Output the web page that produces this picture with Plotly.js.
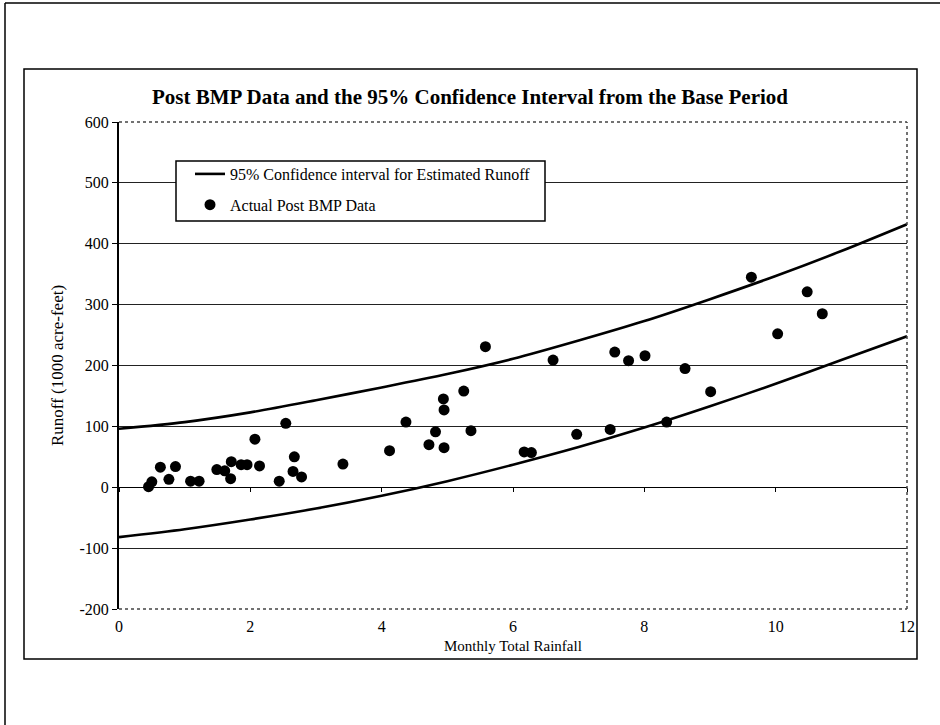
<!DOCTYPE html>
<html>
<head>
<meta charset="utf-8">
<script src="https://cdn.plot.ly/plotly-3.0.1.min.js"></script>
<style>html,body{margin:0;padding:0;background:#fff;}#chart{width:940px;height:725px;}</style>
</head>
<body>
<div id="chart"></div>
<script>
// Actual post-BMP monthly data
const rainfall = [0.45,0.50,0.63,0.76,0.86,1.09,1.22,1.49,1.61,1.70,1.71,1.86,1.95,2.07,2.14,2.44,2.54,2.65,2.67,2.78,3.41,4.12,4.37,4.72,4.82,4.94,4.95,4.95,5.25,5.36,5.58,6.17,6.28,6.61,6.97,7.48,7.55,7.76,8.01,8.34,8.62,9.01,9.63,10.03,10.48,10.71];
const runoff = [1,9,33,13,34,10,10,29,27,14,42,37,37,79,35,10,105,26,50,17,38,60,107,70,91,145,127,65,158,93,231,58,57,209,87,95,222,208,216,107,195,157,345,252,321,285];

// 95% confidence interval bounds (base period)
const ciRain = [0,1,2,3,4,5,6,7,8,9,10,11,12];
const ciUpper = [96,107,123,143,164,186,211,241,273,309,347,388,432];
const ciLower = [-82,-69,-53,-35,-14,10,37,66,98,133,170,209,248];

// Tick labels
const yTickVals = [-200,-100,0,100,200,300,400,500,600];
const yTickText = ['-200','-100','0','100','200','300','400','500','600'];
const xTickVals = [0,2,4,6,8,10,12];
const xTickText = ['0','2','4','6','8','10','12'];

const titleText = 'Post BMP Data and the 95% Confidence Interval from the Base Period';
const xTitle = 'Monthly Total Rainfall';
const yTitle = 'Runoff (1000 acre-feet)';
const lineName = '95% Confidence interval for Estimated Runoff';
const dotName = 'Actual Post BMP Data';

const serif = 'Liberation Serif, Times New Roman, serif';

const traces = [
  {x: ciRain, y: ciUpper, mode: 'lines', name: lineName, legendgroup: 'a',
   line: {color: '#000', width: 2.6, shape: 'spline', smoothing: 0.8}, hoverinfo: 'skip'},
  {x: ciRain, y: ciLower, mode: 'lines', name: lineName, legendgroup: 'a', showlegend: false,
   line: {color: '#000', width: 2.6, shape: 'spline', smoothing: 0.8}, hoverinfo: 'skip'},
  {x: rainfall, y: runoff, mode: 'markers', name: dotName, legendgroup: 'b',
   marker: {color: '#000', size: 11, symbol: 'circle'}},
  {x: [null], y: [null], xaxis: 'x2', showlegend: false, hoverinfo: 'skip'}
];

const L = 119, R = 907, T = 122, B = 609;
const W = R - L, H = B - T;
const px = v => (v - L) / W;
const py = v => (B - v) / H;

const shapes = [
  // outer page frame (top + left)
  {type: 'line', xref: 'paper', yref: 'paper', x0: px(5), x1: px(945), y0: py(3), y1: py(3), line: {color: '#000', width: 1.5}},
  {type: 'line', xref: 'paper', yref: 'paper', x0: px(5), x1: px(5), y0: py(3), y1: py(730), line: {color: '#000', width: 1.5}},
  // chart area frame
  {type: 'rect', xref: 'paper', yref: 'paper', x0: px(24), x1: px(917), y0: py(659), y1: py(69), line: {color: '#000', width: 1.5}, layer: 'below'},
  // plot area border (top, right, bottom dotted)
  {type: 'line', xref: 'paper', yref: 'paper', x0: 0, x1: 1, y0: 1, y1: 1, line: {color: '#fff', width: 2}, layer: 'above'},
  {type: 'line', xref: 'paper', yref: 'paper', x0: 0, x1: 1, y0: 0, y1: 0, line: {color: '#fff', width: 2}, layer: 'above'},
  {type: 'line', xref: 'paper', yref: 'paper', x0: 0, x1: 1, y0: 1, y1: 1, line: {color: '#444', width: 1.5, dash: 'dot'}, layer: 'above'},
  {type: 'line', xref: 'paper', yref: 'paper', x0: 0, x1: 1, y0: 0, y1: 0, line: {color: '#444', width: 1.5, dash: 'dot'}, layer: 'above'},
  {type: 'line', xref: 'paper', yref: 'paper', x0: 1, x1: 1, y0: 0, y1: 1, line: {color: '#444', width: 1.5, dash: 'dot'}, layer: 'above'},
  // legend box
  {type: 'rect', xref: 'paper', yref: 'paper', x0: px(176), x1: px(545), y0: py(221), y1: py(161), fillcolor: '#fff', line: {color: '#000', width: 1.5}, layer: 'above'}
];

const layout = {
  width: 940, height: 725,
  margin: {l: L, r: 940 - R, t: T, b: 725 - B},
  paper_bgcolor: '#fff', plot_bgcolor: '#fff',
  font: {family: serif, color: '#000', size: 16},
  title: {text: '<b>' + titleText + '</b>', font: {family: serif, size: 21, color: '#000'},
          xref: 'container', x: 470 / 940, xanchor: 'center', yref: 'container', y: 1 - 97 / 725, yanchor: 'middle'},
  xaxis: {range: [0, 12], tickmode: 'array', tickvals: xTickVals, ticktext: xTickText,
          showgrid: false, zeroline: false, showline: false,
          ticks: '', ticklabelstandoff: 6, tickfont: {family: serif, size: 16}, fixedrange: true},
  xaxis2: {range: [0, 12], tickmode: 'array', tickvals: xTickVals, overlaying: 'x', anchor: 'free', position: py(487),
           showgrid: false, zeroline: false, showline: false, showticklabels: false,
           ticks: 'outside', ticklen: 4, tickcolor: '#000', tickwidth: 1},
  yaxis: {range: [-200, 600], tickmode: 'array', tickvals: yTickVals, ticktext: yTickText,
          showgrid: true, gridcolor: '#222', gridwidth: 1,
          zeroline: true, zerolinecolor: '#000', zerolinewidth: 1.2,
          showline: true, linecolor: '#000', linewidth: 2, ticks: 'outside', ticklen: 5, tickcolor: '#000',
          tickfont: {family: serif, size: 16},
          title: {text: yTitle, font: {family: serif, size: 17}, standoff: 12}, fixedrange: true},
  annotations: [
    {text: xTitle, xref: 'paper', x: 0.5, xanchor: 'center', yref: 'paper', y: py(646), yanchor: 'middle',
     showarrow: false, font: {family: serif, size: 15, color: '#000'}}
  ],
  legend: {x: px(190), y: py(157), xanchor: 'left', yanchor: 'top', bgcolor: 'rgba(0,0,0,0)',
           borderwidth: 0, font: {family: serif, size: 16, color: '#000'},
           traceorder: 'grouped', tracegroupgap: 7},
  showlegend: true,
  shapes: shapes
};

Plotly.newPlot('chart', traces, layout, {displayModeBar: false, staticPlot: true});
</script>
</body>
</html>
